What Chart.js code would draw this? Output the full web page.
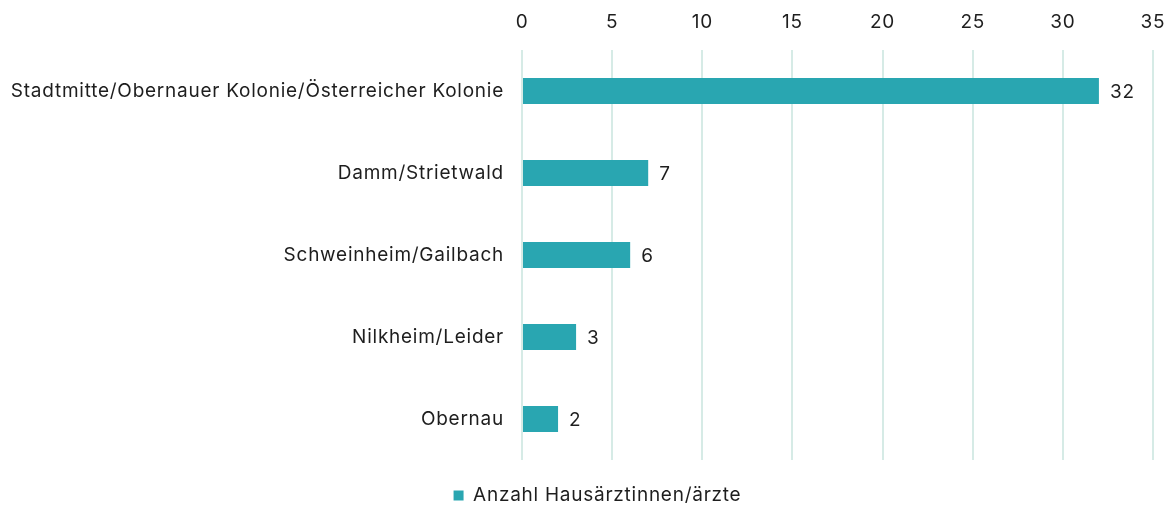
<!DOCTYPE html>
<html>
<head>
<meta charset="utf-8">
<script src="https://cdn.jsdelivr.net/npm/chart.js@4/dist/chart.umd.min.js"></script>
<style>
  html,body{margin:0;padding:0;background:#fff;overflow:hidden}
  #wrap{width:1170px;height:507px;position:relative}
</style>
</head>
<body>
<div id="wrap"><canvas id="chart" width="1170" height="507"></canvas></div>
<script>
// data
const districts = [
  'Stadtmitte/Obernauer Kolonie/Österreicher Kolonie',
  'Damm/Strietwald',
  'Schweinheim/Gailbach',
  'Nilkheim/Leider',
  'Obernau'
]
const doctors = [32, 7, 6, 3, 2]
const seriesName = 'Anzahl Hausärztinnen/ärzte'
const xMax = 35
const xStep = 5

const teal = '#29a6b1'
const ink = '#1e1e1e'
const fontFamily = 'Inter, "Liberation Sans", sans-serif'
const fontSize = 19
const spacing = '0.75px'

// the original font runs wider, so add a little tracking everywhere
const tracking = {
  id:'tracking',
  beforeUpdate(chart){ chart.ctx.letterSpacing = spacing },
  beforeLayout(chart){ chart.ctx.letterSpacing = spacing },
  beforeDraw(chart){ chart.ctx.letterSpacing = spacing },
  afterLayout(chart){
    // push legend a bit lower and right, like the reference
    const lg = chart.legend
    if(lg){ lg.top += 8; lg.bottom += 8; lg.left += 16; lg.right += 16 }
  }
}

// value labels right of the bars
const valueLabels = {
  id:'valueLabels',
  afterDatasetsDraw(chart){
    const {ctx} = chart
    const meta = chart.getDatasetMeta(0)
    ctx.save()
    ctx.letterSpacing = spacing
    ctx.font = `${fontSize}px ${fontFamily}`
    ctx.fillStyle = ink
    ctx.textBaseline = 'middle'
    ctx.textAlign = 'left'
    meta.data.forEach((bar,i)=>{
      ctx.fillText(String(doctors[i]), bar.x + 11, bar.y + 1)
    })
    ctx.restore()
  }
}

try {
  new Chart(document.getElementById('chart'), {
    type:'bar',
    data:{
      labels: districts,
      datasets:[{label: seriesName, data: doctors, backgroundColor: teal, borderWidth:0,
        barPercentage:0.64, categoryPercentage:0.5}]
    },
    options:{
      indexAxis:'y',
      responsive:false,
      animation:false,
      devicePixelRatio:1,
      layout:{padding:{left:10,right:17,top:0,bottom:0}},
      scales:{
        x:{
          position:'top',
          min:0, max:xMax,
          ticks:{stepSize:xStep, color:ink, font:{family:fontFamily,size:fontSize}, padding:16},
          grid:{color:'#d6ebe6', lineWidth:2, drawTicks:false},
          border:{display:false},
          afterFit(scale){ scale.height = 50; scale.paddingLeft = 0; scale.paddingRight = 0 }
        },
        y:{
          ticks:{color:ink, font:{family:fontFamily,size:fontSize}, padding:18},
          grid:{display:false, drawTicks:false},
          border:{display:false},
          afterFit(scale){ scale.width = 512 }
        }
      },
      plugins:{
        legend:{
          position:'bottom',
          labels:{color:ink, font:{family:fontFamily,size:fontSize}, boxWidth:10, boxHeight:10, padding:18}
        },
        tooltip:{enabled:false}
      }
    },
    plugins:[tracking, valueLabels]
  })
} catch(e) {
  console.error('Chart error:', e)
}
</script>
</body>
</html>
